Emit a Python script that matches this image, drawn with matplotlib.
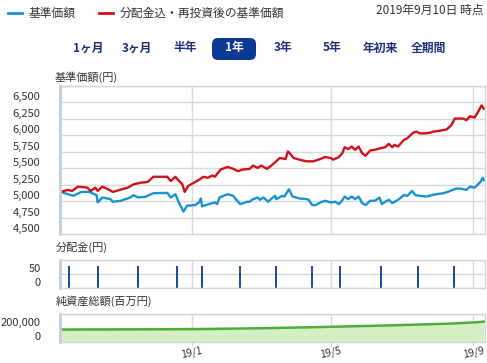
import matplotlib
matplotlib.use("Agg")
import matplotlib.pyplot as plt
import matplotlib.dates as mdates
from matplotlib.lines import Line2D
from matplotlib.patches import FancyBboxPatch
from matplotlib.transforms import IdentityTransform
import numpy as np
from datetime import datetime

plt.rcParams['font.family'] = ['Noto Sans CJK JP', 'DejaVu Sans']

# --- data ---
nav_dates = ['2018-09-10', '2018-09-21', '2018-09-28', '2018-10-05', '2018-10-11', '2018-10-12',
             '2018-10-16', '2018-10-23', '2018-10-25', '2018-11-01', '2018-11-09', '2018-11-12',
             '2018-11-16', '2018-11-22', '2018-11-29', '2018-12-11', '2018-12-14', '2018-12-18',
             '2018-12-21', '2018-12-25', '2018-12-28', '2019-01-04', '2019-01-08', '2019-01-09',
             '2019-01-10', '2019-01-16', '2019-01-21', '2019-01-23', '2019-01-25', '2019-02-01',
             '2019-02-06', '2019-02-08', '2019-02-12', '2019-02-18', '2019-02-20', '2019-02-22',
             '2019-02-27', '2019-03-01', '2019-03-04', '2019-03-08', '2019-03-11', '2019-03-14',
             '2019-03-15', '2019-03-20', '2019-03-22', '2019-03-26', '2019-03-29', '2019-04-04',
             '2019-04-10', '2019-04-12', '2019-04-15', '2019-04-18', '2019-04-22', '2019-04-26',
             '2019-05-01', '2019-05-05', '2019-05-08', '2019-05-10', '2019-05-13', '2019-05-16',
             '2019-05-19', '2019-05-22', '2019-05-25', '2019-05-28', '2019-05-31', '2019-06-04',
             '2019-06-08', '2019-06-12', '2019-06-14', '2019-06-17', '2019-06-20', '2019-06-23',
             '2019-06-25', '2019-06-28', '2019-07-03', '2019-07-06', '2019-07-10', '2019-07-13',
             '2019-07-17', '2019-07-23', '2019-07-27', '2019-07-31', '2019-08-06', '2019-08-10',
             '2019-08-14', '2019-08-17', '2019-08-21', '2019-08-26', '2019-08-29', '2019-09-02',
             '2019-09-07', '2019-09-09', '2019-09-10']
nav = [5140, 5080, 5140, 5140, 5090, 4980,
       5055, 5030, 4990, 5005, 5055, 5090,
       5055, 5065, 5120, 5125, 5055, 5105,
       4980, 4840, 4930, 4940, 4990, 5040,
       4920, 4955, 4980, 4955, 5055, 5105,
       5080, 5030, 4955, 4990, 4990, 5020,
       5055, 5020, 5055, 4990, 5040, 5080,
       5030, 5080, 5070, 5180, 5070, 5040,
       5030, 5020, 4940, 4940, 4980, 5005,
       4980, 4990, 4955, 4990, 5070, 5030,
       5070, 5030, 5070, 4970, 4940, 5005,
       5005, 5055, 4955, 4990, 5020, 4970,
       4990, 5020, 5090, 5080, 5155, 5090,
       5080, 5070, 5090, 5105, 5120, 5140,
       5170, 5190, 5190, 5170, 5220, 5205,
       5290, 5355, 5320]

reinv_dates = ['2018-09-10', '2018-09-16', '2018-09-20', '2018-09-25', '2018-10-03', '2018-10-06',
               '2018-10-10', '2018-10-12', '2018-10-16', '2018-10-21', '2018-10-25', '2018-11-02',
               '2018-11-07', '2018-11-12', '2018-11-18', '2018-11-24', '2018-11-29', '2018-12-05',
               '2018-12-11', '2018-12-14', '2018-12-18', '2018-12-20', '2018-12-24', '2018-12-26',
               '2018-12-29', '2019-01-02', '2019-01-08', '2019-01-11', '2019-01-15', '2019-01-19',
               '2019-01-21', '2019-01-26', '2019-02-01', '2019-02-06', '2019-02-10', '2019-02-14',
               '2019-02-20', '2019-02-23', '2019-02-27', '2019-03-02', '2019-03-07', '2019-03-10',
               '2019-03-14', '2019-03-18', '2019-03-23', '2019-03-25', '2019-03-27', '2019-03-30',
               '2019-04-04', '2019-04-10', '2019-04-16', '2019-04-22', '2019-04-26', '2019-05-01',
               '2019-05-03', '2019-05-08', '2019-05-11', '2019-05-13', '2019-05-16', '2019-05-19',
               '2019-05-22', '2019-05-25', '2019-05-28', '2019-05-31', '2019-06-04', '2019-06-08',
               '2019-06-13', '2019-06-17', '2019-06-20', '2019-06-23', '2019-06-25', '2019-06-28',
               '2019-07-03', '2019-07-06', '2019-07-08', '2019-07-11', '2019-07-14', '2019-07-17',
               '2019-07-21', '2019-07-26', '2019-07-28', '2019-08-03', '2019-08-09', '2019-08-13',
               '2019-08-16', '2019-08-20', '2019-08-23', '2019-08-26', '2019-08-29', '2019-09-02',
               '2019-09-05', '2019-09-08', '2019-09-10']
reinv = [5140, 5170, 5155, 5220, 5205, 5155,
         5205, 5155, 5220, 5180, 5140, 5180,
         5205, 5255, 5280, 5290, 5370, 5370,
         5370, 5305, 5370, 5330, 5255, 5140,
         5230, 5270, 5330, 5370, 5355, 5390,
         5370, 5480, 5520, 5490, 5455, 5480,
         5490, 5540, 5505, 5540, 5490, 5530,
         5590, 5655, 5640, 5755, 5720, 5655,
         5630, 5605, 5605, 5640, 5670, 5655,
         5630, 5670, 5730, 5820, 5790, 5830,
         5780, 5830, 5730, 5690, 5770, 5780,
         5805, 5820, 5870, 5820, 5855, 5830,
         5930, 5955, 5990, 6040, 6055, 6030,
         6030, 6040, 6055, 6070, 6090, 6155,
         6255, 6255, 6255, 6230, 6290, 6270,
         6355, 6455, 6405]

div_dates = ['2018-09-17', '2018-10-12', '2018-11-16', '2018-12-19', '2019-01-10', '2019-02-12',
             '2019-03-15', '2019-04-15', '2019-05-09', '2019-06-13', '2019-07-15', '2019-08-15']
div = [80] * 12

asset_dates = ['2018-09-10', '2018-10-10', '2018-11-10', '2018-12-10', '2019-01-10', '2019-02-10',
               '2019-03-10', '2019-04-10', '2019-05-10', '2019-06-10', '2019-07-10', '2019-08-10',
               '2019-09-01', '2019-09-10']
assets = [175000, 176000, 178000, 180000, 183000, 190000,
          198000, 208000, 220000, 232000, 246000, 262000,
          280000, 292000]

x_ticks = ['2019-01-01', '2019-05-01', '2019-09-01']
x_labels = ['19/1', '19/5', '19/9']
nav_ticks = [4500, 4750, 5000, 5250, 5500, 5750, 6000, 6250, 6500]

BLUE = '#1793d1'
RED = '#d0111b'
NAVY = '#0b3a94'
GRID = '#d9d9d9'
TXT = '#333333'

W, H = 487, 363


def todt(lst):
    return [datetime.strptime(s, '%Y-%m-%d') for s in lst]


def fx(x):
    return x / W


def fy(y):
    return 1 - y / H


fig = plt.figure(figsize=(W / 100, H / 100), dpi=100)

xmin, xmax = datetime(2018, 9, 9, 12), datetime(2019, 9, 11)
ax_main = fig.add_axes([fx(60), fy(234), fx(425), 148 / H])
ax_div = fig.add_axes([fx(60), fy(288.3), fx(425), 28.3 / H])
ax_ast = fig.add_axes([fx(60), fy(341.5), fx(425), 27.2 / H])

for ax in (ax_main, ax_div, ax_ast):
    ax.set_xlim(xmin, xmax)
    ax.set_xticks(todt(x_ticks))
    ax.grid(True, color=GRID, lw=1)
    ax.set_axisbelow(True)
    for s in ('top', 'right', 'bottom'):
        ax.spines[s].set_color('#d6d6d6')
        ax.spines[s].set_linewidth(1)
    ax.spines['left'].set_color('#c3cedb')
    ax.spines['left'].set_linewidth(2)
    ax.tick_params(axis='y', length=0, pad=14, labelsize=8, labelcolor=TXT)
    ax.tick_params(axis='x', length=0, labelbottom=False)

# main NAV panel
ax_main.plot(todt(nav_dates), nav, color=BLUE, lw=1.7)
ax_main.plot(todt(reinv_dates), reinv, color=RED, lw=1.7)
ax_main.set_ylim(4500, 6750)
ax_main.set_yticks(nav_ticks + [6750])
ax_main.set_yticklabels([f'{v:,}' for v in nav_ticks] + [''])

# distributions
ax_div.vlines(todt(div_dates), 0, div, color=NAVY, lw=1.3)
ax_div.set_ylim(0, 100)
ax_div.set_yticks([0, 50, 100])
ax_div.set_yticklabels(['0', '50', ''])

# net assets
ax_ast.fill_between(todt(asset_dates), assets, color='#d3efc3', lw=0)
ax_ast.plot(todt(asset_dates), assets, color='#4dae3c', lw=1.8)
ax_ast.set_ylim(0, 400000)
ax_ast.set_yticks([0, 200000, 400000])
ax_ast.set_yticklabels(['0', '200,000', ''])
ax_ast.set_xticklabels(x_labels)
ax_ast.tick_params(axis='x', length=3, color='#cccccc', labelbottom=True,
                   labelsize=7.5, labelcolor=TXT, pad=0)
plt.setp(ax_ast.get_xticklabels(), rotation=12)

for ax in (ax_main, ax_div, ax_ast):
    plt.setp(ax.get_yticklabels(), va='bottom')

# panel titles
fig.text(fx(55), fy(77), '基準価額(円)', fontsize=8, color=TXT, va='center')
fig.text(fx(56), fy(247), '分配金(円)', fontsize=8, color=TXT, va='center')
fig.text(fx(56), fy(301), '純資産総額(百万円)', fontsize=8, color=TXT, va='center')

# legend + date
fig.add_artist(Line2D([fx(8), fx(22)], [fy(13), fy(13)], color=BLUE, lw=2))
fig.text(fx(29), fy(13), '基準価額', fontsize=8.5, color=TXT, va='center')
fig.add_artist(Line2D([fx(99), fx(113)], [fy(13), fy(13)], color=RED, lw=2))
fig.text(fx(120), fy(13), '分配金込・再投資後の基準価額', fontsize=8.5, color=TXT, va='center')
fig.text(fx(484), fy(10), '2019年9月10日 時点', fontsize=8.5, color=TXT, va='center', ha='right')

# period buttons
periods = ['1ヶ月', '3ヶ月', '半年', '1年', '3年', '5年', '年初来', '全期間']
centers = [88, 137, 185, 234, 283, 332, 380, 428]
fig.add_artist(FancyBboxPatch((212, H - 60), 44, 22, boxstyle='round,pad=0,rounding_size=6',
                              transform=IdentityTransform(), fc=NAVY, ec='none'))
for p, c in zip(periods, centers):
    col = 'white' if p == '1年' else '#1b2f7d'
    fig.text(fx(c), fy(48), p, fontsize=8.5, fontweight='bold', color=col, ha='center', va='center')

fig.savefig('out.png', dpi=100)
